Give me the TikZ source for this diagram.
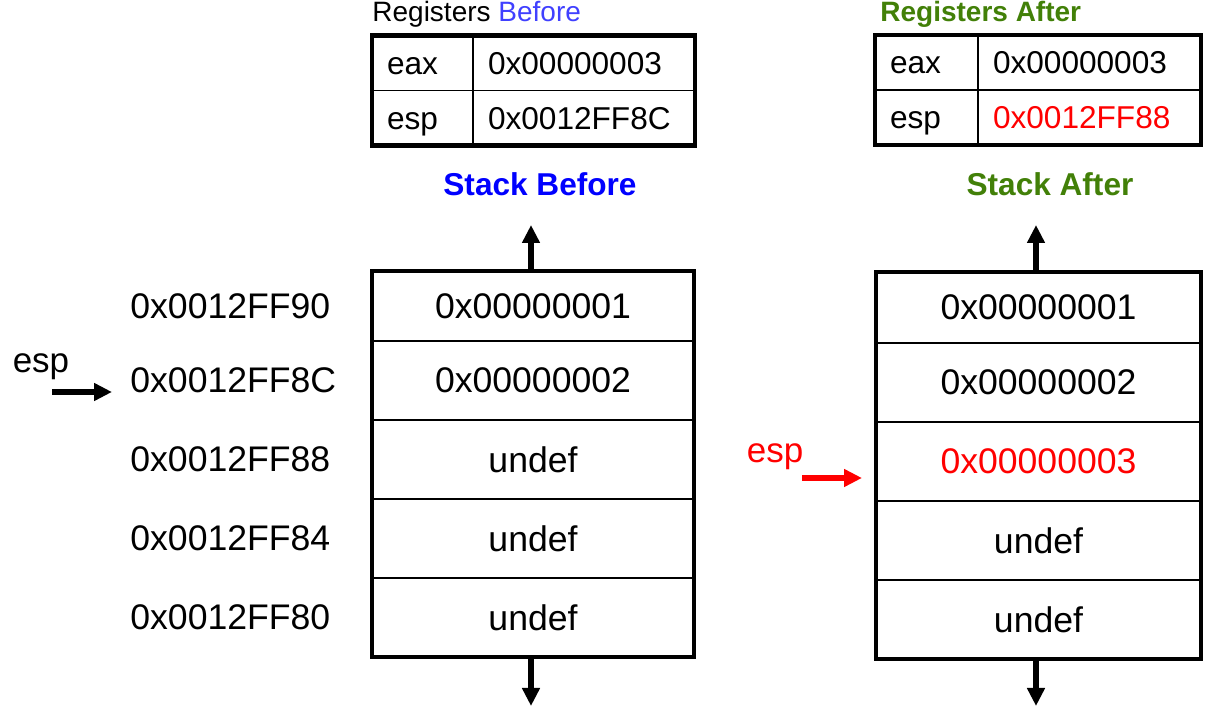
\documentclass[tikz,border=0pt]{standalone}
\usepackage{fontspec}
\setmainfont{Liberation Sans}
\usetikzlibrary{arrows.meta,positioning}
\definecolor{regblue}{RGB}{64,64,255}
\definecolor{stkgreen}{RGB}{66,128,8}
\begin{document}
\begin{tikzpicture}[x=0.5pt,y=-0.5pt,
    cell/.style={draw,line width=0.6pt,outer sep=0pt,inner sep=0pt,
      minimum width=161pt,minimum height=39.5pt,font=\fontsize{17.8}{20}\selectfont},
    addr/.style={anchor=west,inner sep=0pt,font=\fontsize{17.8}{20}\selectfont},
    regkey/.style={draw,line width=0.6pt,outer sep=0pt,inner xsep=7.5pt,inner ysep=0pt,
      text width=35.5pt,align=left,text height=14.8pt,text depth=3.3pt,
      minimum height=27.5pt,font=\fontsize{15.8}{18}\selectfont},
    regval/.style={regkey,text width=96pt},
    frame/.style={line width=2.25pt},
    title/.style={anchor=base,inner sep=0pt,font=\fontsize{15.8}{18}\selectfont\bfseries},
    ptr/.style={line width=2.75pt,-{Triangle[length=9pt,width=8.5pt]}}]
  \useasboundingbox (0,0) rectangle (1232,715);

  % registers before
  \node[anchor=base west,inner sep=0pt,font=\fontsize{14}{16}\selectfont]
    (regsB) at (372,22) {Registers \textcolor{regblue}{Before}};
  \node[regkey] (bk1) at (422.5,63) {eax};
  \node[regval,right=0pt of bk1] (bv1) {0x00000003};
  \node[regkey,below=0pt of bk1] (bk2) {esp};
  \node[regval,right=0pt of bk2] (bv2) {0x0012FF8C};
  \draw[frame] (bk1.north west) rectangle (bv2.south east);

  % registers after
  \node[anchor=base west,inner sep=0pt,font=\fontsize{14}{16}\selectfont\bfseries,text=stkgreen]
    (regsA) at (880,22) {Registers After};
  \node[regkey,text width=36.5pt] (ak1) at (926.5,62.5) {eax};
  \node[regval,text width=96.5pt,right=0pt of ak1] (av1) {0x00000003};
  \node[regkey,text width=36.5pt,below=0pt of ak1] (ak2) {esp};
  \node[regval,text width=96.5pt,right=0pt of ak2,text=red] (av2) {0x0012FF88};
  \draw[frame] (ak1.north west) rectangle (av2.south east);

  \node[title,text=blue] (stkB) at (540,196) {Stack Before};
  \node[title,text=stkgreen] (stkA) at (1050,196) {Stack After};

  % stack before
  \node[cell,minimum height=35pt] (b1) at (533,306) {0x00000001};
  \node[cell,below=0pt of b1] (b2) {0x00000002};
  \node[cell,below=0pt of b2] (b3) {undef};
  \node[cell,below=0pt of b3] (b4) {undef};
  \node[cell,below=0pt of b4] (b5) {undef};
  \draw[frame] (b1.north west) rectangle (b5.south east);

  \foreach \i/\a in {1/90,2/8C,3/88,4/84,5/80}
    \node[addr] (a\i) at (130,0 |- b\i.center) {0x0012FF\a};

  % stack after
  \node[cell,minimum width=162.5pt,minimum height=35.5pt] (f1) at (1038.5,307.5) {0x00000001};
  \node[cell,minimum width=162.5pt,below=0pt of f1] (f2) {0x00000002};
  \node[cell,minimum width=162.5pt,below=0pt of f2,text=red] (f3) {0x00000003};
  \node[cell,minimum width=162.5pt,below=0pt of f3] (f4) {undef};
  \node[cell,minimum width=162.5pt,below=0pt of f4] (f5) {undef};
  \draw[frame] (f1.north west) rectangle (f5.south east);

  % growth arrows
  \coordinate (bUp) at (531,225);
  \coordinate (bDn) at (531,706);
  \coordinate (fUp) at (1036,225);
  \coordinate (fDn) at (1036,706);
  \draw[ptr] (bUp |- b1.north) -- (bUp);
  \draw[ptr] (bDn |- b5.south) -- (bDn);
  \draw[ptr] (fUp |- f1.north) -- (fUp);
  \draw[ptr] (fDn |- f5.south) -- (fDn);

  % esp pointers
  \node[anchor=base,inner sep=0pt,font=\fontsize{17.5}{20}\selectfont] (espB) at (41,373) {esp};
  \coordinate (espBtail) at (52,392);
  \coordinate (espBtip) at (112,392);
  \draw[ptr] (espBtail) -- (espBtip);
  \node[anchor=base,inner sep=0pt,font=\fontsize{17.5}{20}\selectfont,text=red] (espA) at (775,463) {esp};
  \coordinate (espAtail) at (802,478);
  \coordinate (espAtip) at (862,478);
  \draw[ptr,red] (espAtail) -- (espAtip);
\end{tikzpicture}
\end{document}
